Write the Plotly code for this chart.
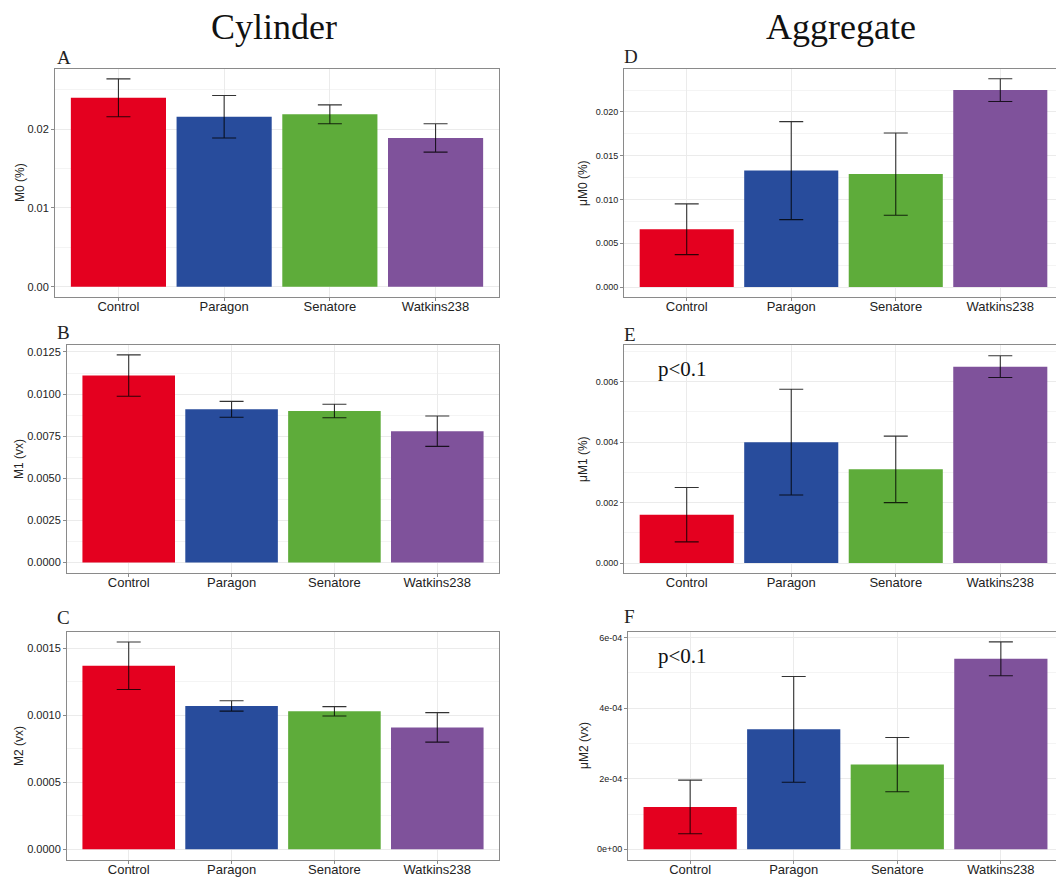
import plotly.graph_objects as go

categories = ["Control", "Paragon", "Senatore", "Watkins238"]
bar_colors = ["#E4001F", "#284C9C", "#5EAC3A", "#7F529B"]

# Cylinder
m0 = [0.0240, 0.0216, 0.0219, 0.0189]
m0_err = [0.0024, 0.0027, 0.0012, 0.0018]
m1 = [0.0111, 0.0091, 0.0090, 0.0078]
m1_err = [0.00123, 0.00047, 0.00040, 0.00090]
m2 = [0.00137, 0.00107, 0.00103, 0.00091]
m2_err = [0.000177, 0.000039, 0.000035, 0.000110]

# Aggregate
um0 = [0.0066, 0.0133, 0.0129, 0.0225]
um0_err = [0.0029, 0.0056, 0.0047, 0.0013]
um1 = [0.0016, 0.0040, 0.0031, 0.0065]
um1_err = [0.0009, 0.00175, 0.0011, 0.00036]
um2 = [0.00012, 0.00034, 0.00024, 0.00054]
um2_err = [0.000076, 0.00015, 0.000077, 0.000048]

# tick labels
ticks_m0 = [0.0, 0.01, 0.02]
ticklab_m0 = ["0.00", "0.01", "0.02"]
ticks_m1 = [0.0, 0.0025, 0.005, 0.0075, 0.01, 0.0125]
ticklab_m1 = ["0.0000", "0.0025", "0.0050", "0.0075", "0.0100", "0.0125"]
ticks_m2 = [0.0, 0.0005, 0.001, 0.0015]
ticklab_m2 = ["0.0000", "0.0005", "0.0010", "0.0015"]
ticks_um0 = [0.0, 0.005, 0.01, 0.015, 0.02]
ticklab_um0 = ["0.000", "0.005", "0.010", "0.015", "0.020"]
ticks_um1 = [0.0, 0.002, 0.004, 0.006]
ticklab_um1 = ["0.000", "0.002", "0.004", "0.006"]
ticks_um2 = [0.0, 0.0002, 0.0004, 0.0006]
ticklab_um2 = ["0e+00", "2e-04", "4e-04", "6e-04"]

OFF = 8  # page body margin
W, H = 1064 - OFF, 877 - OFF
SANS = "Liberation Sans, Arial, Helvetica, sans-serif"
SERIF = "Liberation Serif, Times New Roman, serif"


def px(xp, yp):
    return (xp - OFF) / W, 1 - (yp - OFF) / H


panels = [
    dict(lab="A", y=m0, e=m0_err, tv=ticks_m0, tt=ticklab_m0, yr=[-0.00131, 0.02766], mdt=0.005,
         yt="M0 (%)", box=(55, 499, 69, 297), tfs=11, ytx=20, lx=64, ly=57, p=False),
    dict(lab="B", y=m1, e=m1_err, tv=ticks_m1, tt=ticklab_m1, yr=[-0.000618, 0.012914], mdt=0.00125,
         yt="M1 (vx)", box=(67, 499, 345, 573), tfs=11, ytx=19, lx=63, ly=332, p=False),
    dict(lab="C", y=m2, e=m2_err, tv=ticks_m2, tt=ticklab_m2, yr=[-0.00008, 0.001622], mdt=0.00025,
         yt="M2 (vx)", box=(67, 499, 632, 860), tfs=11, ytx=19, lx=63, ly=617, p=False),
    dict(lab="D", y=um0, e=um0_err, tv=ticks_um0, tt=ticklab_um0, yr=[-0.00114, 0.02491], mdt=0.0025,
         yt="μM0 (%)", box=(624, 1063, 69, 297), tfs=9, ytx=583, lx=631, ly=56, p=False),
    dict(lab="E", y=um1, e=um1_err, tv=ticks_um1, tt=ticklab_um1, yr=[-0.000331, 0.007217], mdt=0.001,
         yt="μM1 (%)", box=(624, 1063, 345, 573), tfs=9, ytx=583, lx=630, ly=335, p=True),
    dict(lab="F", y=um2, e=um2_err, tv=ticks_um2, tt=ticklab_um2, yr=[-0.0000304, 0.000616], mdt=0.0001,
         yt="μM2 (vx)", box=(628, 1063, 632, 860), tfs=9, ytx=584, lx=629, ly=616, p=True),
]

fig = go.Figure()
annotations = []
layout = {}
for i, pn in enumerate(panels, start=1):
    sfx = "" if i == 1 else str(i)
    l, r, t, b = pn["box"]
    x0, y0 = px(l, b)
    x1, y1 = px(r, t)
    fig.add_trace(go.Bar(
        x=categories, y=pn["y"], xaxis="x" + sfx, yaxis="y" + sfx,
        marker=dict(color=bar_colors, line=dict(width=0)), width=0.9,
        error_y=dict(type="data", array=pn["e"], visible=True, color="rgba(0,0,0,0.8)",
                     thickness=1.1, width=12),
        showlegend=False, hoverinfo="x+y",
    ))
    layout["xaxis" + sfx] = dict(
        domain=[x0, min(x1, 1.0)], anchor="y" + sfx, type="category",
        range=[-0.6, 3.6], showline=True, linecolor="#8a8a8a", linewidth=1, mirror=True,
        showgrid=True, gridcolor="#ebebeb", gridwidth=1, ticks="outside", ticklen=3,
        tickcolor="#8a8a8a", tickfont=dict(family=SANS, size=13, color="#222"), zeroline=False,
        ticklabelstandoff=-6,
    )
    layout["yaxis" + sfx] = dict(
        domain=[y0, y1], anchor="x" + sfx, range=pn["yr"],
        tickmode="array", tickvals=pn["tv"], ticktext=pn["tt"],
        showline=True, linecolor="#8a8a8a", linewidth=1, mirror=True,
        showgrid=True, gridcolor="#ebebeb", gridwidth=1, zeroline=False,
        ticks="outside", ticklen=3, tickcolor="#8a8a8a",
        tickfont=dict(family=SANS, size=pn["tfs"], color="#222"),
        minor=dict(dtick=pn["mdt"], tick0=0, showgrid=True, gridcolor="#f4f4f4", ticklen=0),
    )
    ax, ay = px(pn["ytx"], (t + b) / 2)
    annotations.append(dict(text=pn["yt"], x=ax, y=ay,
                            xref="paper", yref="paper", textangle=-90, showarrow=False,
                            xanchor="center", yanchor="middle",
                            font=dict(family=SANS, size=12, color="#222")))
    lx, ly = px(pn["lx"], pn["ly"])
    annotations.append(dict(text=pn["lab"], x=lx, y=ly,
                            xref="paper", yref="paper", showarrow=False,
                            xanchor="center", yanchor="middle",
                            font=dict(family=SERIF, size=19, color="#222")))
    if pn["p"]:
        qx, qy = px(682, t + 24)
        annotations.append(dict(text="p<0.1", x=qx, y=qy,
                                xref="paper", yref="paper", showarrow=False,
                                xanchor="center", yanchor="middle",
                                font=dict(family=SERIF, size=21, color="#111")))

for txt, cx in (("Cylinder", 274), ("Aggregate", 841)):
    tx, ty = px(cx, 27)
    annotations.append(dict(text=txt, x=tx, y=ty, xref="paper", yref="paper",
                            showarrow=False, xanchor="center", yanchor="middle",
                            font=dict(family=SERIF, size=36, color="#111")))

fig.update_layout(
    width=W, height=H, autosize=False,
    margin=dict(l=0, r=0, t=0, b=0),
    paper_bgcolor="white", plot_bgcolor="white",
    bargap=0.1, annotations=annotations, template="none",
    **layout,
)

fig.write_html("out.html")
